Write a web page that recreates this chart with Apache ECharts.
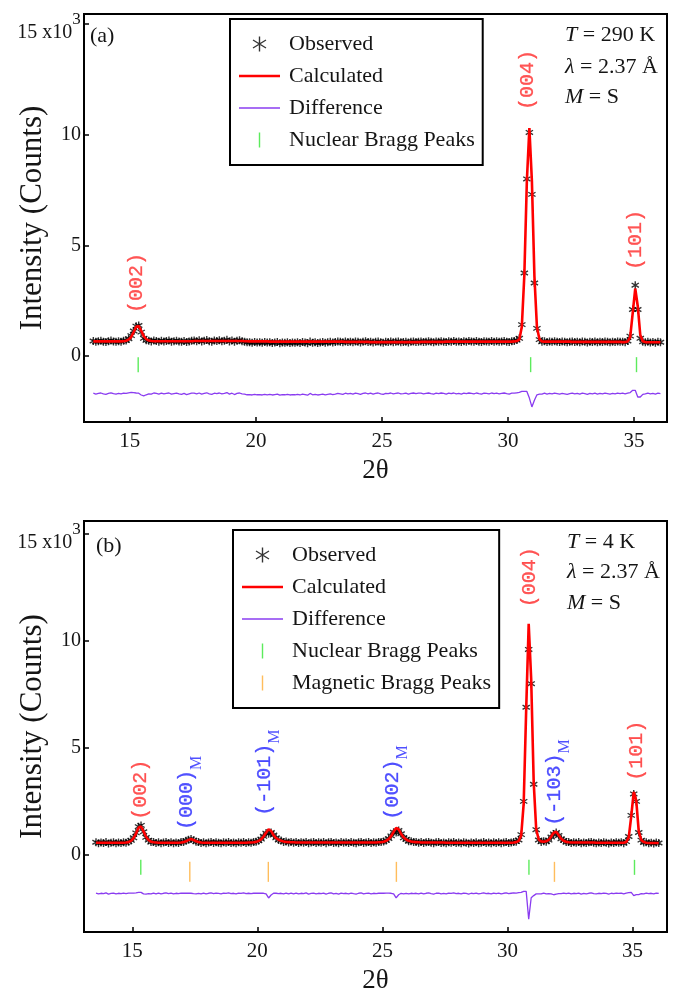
<!DOCTYPE html>
<html>
<head>
<meta charset="utf-8">
<script src="https://cdn.jsdelivr.net/npm/echarts@6/dist/echarts.min.js"></script>
<style>
  html, body { margin: 0; padding: 0; background: #fff; }
  #chart { width: 691px; height: 998px; }
</style>
</head>
<body>
<div id="chart"></div>
<script>
// Scan grid (2θ, degrees)
const twoTheta = [
  13.55,13.65,13.75,13.85,13.95,14.05,14.15,14.25,14.35,14.45,
  14.55,14.65,14.75,14.85,14.95,15.05,15.15,15.25,15.35,15.45,
  15.55,15.65,15.75,15.85,15.95,16.05,16.15,16.25,16.35,16.45,
  16.55,16.65,16.75,16.85,16.95,17.05,17.15,17.25,17.35,17.45,
  17.55,17.65,17.75,17.85,17.95,18.05,18.15,18.25,18.35,18.45,
  18.55,18.65,18.75,18.85,18.95,19.05,19.15,19.25,19.35,19.45,
  19.55,19.65,19.75,19.85,19.95,20.05,20.15,20.25,20.35,20.45,
  20.55,20.65,20.75,20.85,20.95,21.05,21.15,21.25,21.35,21.45,
  21.55,21.65,21.75,21.85,21.95,22.05,22.15,22.25,22.35,22.45,
  22.55,22.65,22.75,22.85,22.95,23.05,23.15,23.25,23.35,23.45,
  23.55,23.65,23.75,23.85,23.95,24.05,24.15,24.25,24.35,24.45,
  24.55,24.65,24.75,24.85,24.95,25.05,25.15,25.25,25.35,25.45,
  25.55,25.65,25.75,25.85,25.95,26.05,26.15,26.25,26.35,26.45,
  26.55,26.65,26.75,26.85,26.95,27.05,27.15,27.25,27.35,27.45,
  27.55,27.65,27.75,27.85,27.95,28.05,28.15,28.25,28.35,28.45,
  28.55,28.65,28.75,28.85,28.95,29.05,29.15,29.25,29.35,29.45,
  29.55,29.65,29.75,29.85,29.95,30.05,30.15,30.25,30.35,30.45,
  30.55,30.65,30.75,30.85,30.95,31.05,31.15,31.25,31.35,31.45,
  31.55,31.65,31.75,31.85,31.95,32.05,32.15,32.25,32.35,32.45,
  32.55,32.65,32.75,32.85,32.95,33.05,33.15,33.25,33.35,33.45,
  33.55,33.65,33.75,33.85,33.95,34.05,34.15,34.25,34.35,34.45,
  34.55,34.65,34.75,34.85,34.95,35.05,35.15,35.25,35.35,35.45,
  35.55,35.65,35.75,35.85,35.95,36.05
];

// (a) T = 290 K, intensities in 10^3 counts
const obsA = [
  0.68,0.64,0.67,0.69,0.65,0.63,0.67,0.70,0.66,0.64,
  0.67,0.65,0.69,0.70,0.78,0.92,1.13,1.35,1.38,1.08,
  0.80,0.71,0.69,0.66,0.70,0.68,0.65,0.69,0.66,0.68,
  0.70,0.65,0.67,0.69,0.66,0.64,0.68,0.63,0.66,0.69,
  0.70,0.67,0.71,0.66,0.69,0.72,0.67,0.65,0.70,0.68,
  0.71,0.67,0.69,0.73,0.66,0.70,0.64,0.69,0.71,0.67,
  0.65,0.62,0.62,0.60,0.63,0.61,0.62,0.60,0.63,0.61,
  0.62,0.59,0.61,0.63,0.58,0.61,0.60,0.62,0.59,0.61,
  0.60,0.62,0.59,0.63,0.61,0.58,0.66,0.60,0.62,0.59,
  0.61,0.63,0.60,0.62,0.64,0.61,0.63,0.66,0.64,0.62,
  0.66,0.63,0.65,0.62,0.66,0.64,0.61,0.65,0.67,0.63,
  0.65,0.61,0.64,0.66,0.62,0.60,0.64,0.63,0.66,0.62,
  0.64,0.66,0.62,0.63,0.65,0.61,0.64,0.66,0.63,0.65,
  0.66,0.63,0.65,0.67,0.64,0.62,0.66,0.64,0.67,0.65,
  0.63,0.67,0.65,0.68,0.64,0.66,0.63,0.67,0.65,0.68,
  0.66,0.64,0.68,0.65,0.63,0.67,0.66,0.64,0.68,0.65,
  0.67,0.64,0.66,0.68,0.65,0.63,0.67,0.68,0.72,0.80,
  1.42,3.75,8.00,10.10,7.30,3.30,1.25,0.74,0.64,0.67,
  0.63,0.66,0.64,0.67,0.65,0.63,0.66,0.64,0.62,0.65,
  0.66,0.63,0.65,0.62,0.66,0.64,0.61,0.65,0.63,0.66,
  0.62,0.65,0.63,0.66,0.64,0.62,0.65,0.63,0.66,0.64,
  0.65,0.62,0.68,0.90,2.10,3.20,2.10,0.80,0.64,0.62,
  0.64,0.61,0.63,0.60,0.64,0.62
];
const calcA = [
  0.66,0.66,0.66,0.66,0.66,0.66,0.66,0.66,0.66,0.66,
  0.66,0.66,0.67,0.69,0.74,0.86,1.08,1.32,1.36,1.14,
  0.90,0.76,0.70,0.68,0.67,0.67,0.67,0.67,0.67,0.67,
  0.67,0.67,0.67,0.67,0.67,0.67,0.67,0.67,0.67,0.67,
  0.68,0.68,0.68,0.68,0.68,0.68,0.68,0.68,0.68,0.68,
  0.68,0.68,0.68,0.68,0.68,0.68,0.68,0.68,0.68,0.68,
  0.67,0.67,0.66,0.66,0.66,0.66,0.66,0.66,0.66,0.66,
  0.65,0.65,0.65,0.65,0.65,0.65,0.65,0.65,0.65,0.65,
  0.65,0.65,0.65,0.65,0.65,0.65,0.65,0.65,0.65,0.65,
  0.65,0.65,0.65,0.65,0.65,0.65,0.65,0.65,0.65,0.65,
  0.64,0.64,0.64,0.64,0.64,0.64,0.64,0.64,0.64,0.64,
  0.63,0.63,0.63,0.63,0.63,0.63,0.63,0.63,0.63,0.63,
  0.63,0.63,0.63,0.63,0.63,0.63,0.63,0.63,0.63,0.63,
  0.64,0.64,0.64,0.64,0.64,0.64,0.64,0.64,0.64,0.64,
  0.65,0.65,0.65,0.65,0.65,0.65,0.65,0.65,0.65,0.65,
  0.65,0.65,0.65,0.65,0.65,0.65,0.65,0.65,0.65,0.65,
  0.65,0.65,0.65,0.65,0.65,0.65,0.65,0.66,0.68,0.74,
  1.32,3.65,7.90,10.30,7.90,3.60,1.30,0.76,0.66,0.65,
  0.65,0.65,0.65,0.65,0.65,0.65,0.65,0.65,0.65,0.65,
  0.64,0.64,0.64,0.64,0.64,0.64,0.64,0.64,0.64,0.64,
  0.64,0.64,0.64,0.64,0.64,0.64,0.64,0.64,0.64,0.64,
  0.63,0.63,0.66,0.85,1.95,3.05,2.25,0.95,0.67,0.63,
  0.62,0.62,0.62,0.62,0.62,0.62
];

// (b) T = 4 K
const obsB = [
  0.59,0.55,0.58,0.56,0.60,0.54,0.57,0.59,0.55,0.58,
  0.56,0.59,0.57,0.62,0.68,0.80,1.03,1.32,1.38,1.08,
  0.82,0.69,0.60,0.61,0.56,0.59,0.55,0.58,0.60,0.56,
  0.59,0.55,0.58,0.56,0.60,0.61,0.66,0.71,0.75,0.69,
  0.62,0.61,0.56,0.59,0.55,0.58,0.60,0.56,0.59,0.57,
  0.55,0.59,0.57,0.60,0.56,0.58,0.55,0.59,0.57,0.60,
  0.56,0.59,0.57,0.60,0.62,0.66,0.74,0.87,1.02,0.99,
  1.05,0.93,0.80,0.70,0.67,0.61,0.63,0.58,0.61,0.57,
  0.60,0.56,0.59,0.57,0.61,0.55,0.58,0.60,0.56,0.59,
  0.57,0.60,0.55,0.59,0.61,0.56,0.58,0.55,0.60,0.57,
  0.59,0.56,0.60,0.57,0.55,0.59,0.61,0.56,0.58,0.60,
  0.56,0.59,0.57,0.60,0.61,0.63,0.68,0.76,0.89,1.06,
  1.05,1.14,0.99,0.80,0.73,0.64,0.64,0.60,0.61,0.57,
  0.60,0.56,0.59,0.61,0.57,0.55,0.59,0.60,0.56,0.58,
  0.55,0.59,0.57,0.60,0.56,0.58,0.55,0.59,0.57,0.54,
  0.58,0.56,0.59,0.55,0.57,0.60,0.56,0.58,0.55,0.59,
  0.56,0.59,0.55,0.58,0.60,0.56,0.58,0.61,0.62,0.70,
  0.95,2.50,6.90,9.60,8.00,3.30,1.18,0.70,0.61,0.64,
  0.62,0.69,0.84,0.98,1.05,0.91,0.75,0.68,0.60,0.61,
  0.56,0.59,0.57,0.60,0.55,0.58,0.56,0.59,0.61,0.57,
  0.55,0.58,0.56,0.59,0.57,0.54,0.58,0.56,0.59,0.57,
  0.59,0.55,0.62,0.86,1.85,2.85,2.50,1.05,0.69,0.58,
  0.59,0.55,0.57,0.54,0.58,0.56
];
const calcB = [
  0.57,0.57,0.57,0.57,0.57,0.57,0.57,0.57,0.57,0.57,
  0.57,0.57,0.58,0.60,0.66,0.78,1.00,1.27,1.33,1.10,
  0.85,0.70,0.62,0.59,0.58,0.57,0.57,0.57,0.57,0.57,
  0.57,0.57,0.57,0.57,0.58,0.60,0.64,0.70,0.74,0.70,
  0.64,0.60,0.58,0.57,0.57,0.57,0.57,0.57,0.57,0.57,
  0.57,0.57,0.57,0.57,0.57,0.57,0.57,0.57,0.57,0.57,
  0.57,0.58,0.58,0.59,0.61,0.65,0.73,0.86,1.04,1.20,
  1.12,0.92,0.79,0.71,0.66,0.63,0.61,0.60,0.59,0.59,
  0.58,0.58,0.58,0.58,0.58,0.58,0.58,0.58,0.58,0.58,
  0.58,0.58,0.58,0.58,0.58,0.58,0.58,0.58,0.58,0.58,
  0.58,0.58,0.58,0.58,0.58,0.58,0.58,0.58,0.58,0.58,
  0.58,0.58,0.58,0.59,0.60,0.62,0.66,0.74,0.88,1.08,
  1.26,1.20,0.98,0.82,0.72,0.66,0.63,0.61,0.60,0.59,
  0.58,0.58,0.58,0.58,0.58,0.58,0.58,0.58,0.58,0.58,
  0.57,0.57,0.57,0.57,0.57,0.57,0.57,0.57,0.57,0.57,
  0.57,0.57,0.57,0.57,0.57,0.57,0.57,0.57,0.57,0.57,
  0.57,0.57,0.57,0.57,0.57,0.57,0.57,0.58,0.60,0.66,
  0.90,2.40,6.80,10.80,8.20,3.40,1.20,0.72,0.63,0.62,
  0.64,0.70,0.86,1.04,1.08,0.92,0.76,0.66,0.61,0.59,
  0.58,0.58,0.58,0.58,0.58,0.58,0.58,0.58,0.58,0.58,
  0.57,0.57,0.57,0.57,0.57,0.57,0.57,0.57,0.57,0.57,
  0.57,0.57,0.60,0.82,1.80,2.95,2.55,1.10,0.70,0.60,
  0.57,0.56,0.56,0.56,0.56,0.56
];

// Bragg reflection positions (2θ)
const nuclearA = [15.33, 30.90, 35.10];
const nuclearB = [15.34, 30.86, 35.08];
const magneticB = [17.30, 20.44, 25.56, 31.88];

// Peak index labels: [2θ, height, hkl, kind]
const peakLabelsA = [
  [15.27, 3.30, '(002)', 'n'],
  [30.80, 12.47, '(004)', 'n'],
  [35.05, 5.24, '(101)', 'n']
];
const peakLabelsB = [
  [15.32, 3.04, '(002)', 'n'],
  [17.33, 2.90, '(000)', 'm'],
  [20.44, 3.85, '(-101)', 'm'],
  [25.56, 3.39, '(002)', 'm'],
  [30.90, 12.97, '(004)', 'n'],
  [32.04, 3.39, '(-103)', 'm'],
  [35.18, 4.87, '(101)', 'n']
];

const yTickValues = [0, 5, 10, 15];
const xTickValues = [15, 20, 25, 30, 35];

// Vertical placement of the difference curve and the reflection markers
const DIFF_OFFSET_A = -1.7, DIFF_OFFSET_B = -1.8;
const TICK_ROW_A = -0.39, TICK_ROW_B = -0.58, MAG_ROW_B = -0.79;

const SERIF = "'Liberation Serif','Times New Roman',serif";
const MONO = "'Liberation Mono','Courier New',monospace";
const INK = '#151515';
const RED = '#ff0000', PURPLE = '#8a3cf0', GREEN = '#33e633', ORANGE = '#ffad33';
const LABEL_RED = '#ff2a2a', LABEL_BLUE = '#2626ff';

// Six-armed asterisk built from thin filled bars
function asteriskPath(t) {
  const h = t / 2;
  const bar = (x1, y1, x2, y2) => {
    const dx = x2 - x1, dy = y2 - y1, L = Math.hypot(dx, dy);
    const nx = -dy / L * h, ny = dx / L * h;
    const p = [[x1 - nx, y1 - ny], [x2 - nx, y2 - ny], [x2 + nx, y2 + ny], [x1 + nx, y1 + ny]];
    return 'M' + p.map(q => q[0].toFixed(3) + ',' + q[1].toFixed(3)).join('L') + 'Z';
  };
  return 'path://' + bar(6, 0, 6, 12) + bar(0.8, 2.8, 11.2, 9.2) + bar(0.8, 9.2, 11.2, 2.8);
}

const pairs = ys => twoTheta.map((x, i) => [x, ys[i]]);
const difference = (obs, calc, off) => twoTheta.map((x, i) => [x, +(obs[i] - calc[i] + off).toFixed(3)]);

function xAxisFor(gi, min, max) {
  return {
    type: 'value', gridIndex: gi, min: min, max: max,
    name: '2θ', nameLocation: 'middle', nameGap: 35, nameMoveOverlap: false,
    nameTextStyle: { fontFamily: SERIF, fontSize: 27, color: INK },
    axisLine: { onZero: false, lineStyle: { color: '#000', width: 2 } },
    axisTick: { inside: true, length: 5, customValues: xTickValues, lineStyle: { color: '#000', width: 1.5 } },
    axisLabel: { customValues: xTickValues, margin: 9, fontFamily: SERIF, fontSize: 21, color: INK },
    splitLine: { show: false }
  };
}
function yAxisFor(gi, min, max) {
  return {
    type: 'value', gridIndex: gi, min: min, max: max,
    name: 'Intensity (Counts)', nameLocation: 'middle', nameGap: 36, nameMoveOverlap: false,
    nameTextStyle: { fontFamily: SERIF, fontSize: 31, color: INK },
    axisLine: { lineStyle: { color: '#000', width: 2 } },
    axisTick: { inside: true, length: 5, customValues: yTickValues, lineStyle: { color: '#000', width: 1.5 } },
    axisLabel: {
      customValues: yTickValues, margin: 3,
      // top tick carries the ×10^3 scale factor
      formatter: v => v === 15 ? '{n|15 x10}{s|3}{sp| }' : '{p|' + v + '}',
      rich: {
        p: { fontFamily: SERIF, fontSize: 20, lineHeight: 20, color: INK },
        n: { fontFamily: SERIF, fontSize: 20, lineHeight: 20, color: INK, verticalAlign: 'top', padding: [17, 0, 0, 0] },
        s: { fontFamily: SERIF, fontSize: 17, lineHeight: 17, color: INK, verticalAlign: 'top', padding: [5, 0, 0, 0] },
        sp: { fontFamily: SERIF, fontSize: 1, lineHeight: 36 }
      }
    },
    splitLine: { show: false }
  };
}

function labelSeries(list, idx) {
  const glyph = { fontFamily: MONO, fontSize: 20, lineHeight: 20, textBorderWidth: 0.3 };
  return {
    type: 'scatter', xAxisIndex: idx, yAxisIndex: idx, silent: true, z: 6,
    symbol: 'circle', symbolSize: 1, itemStyle: { color: 'rgba(0,0,0,0)' },
    data: list.map(d => ({ value: [d[0], d[1]], name: d[2], kind: d[3] })),
    label: {
      show: true, position: 'inside', rotate: 90,
      formatter: p => p.data.kind === 'm' ? '{m|' + p.data.name + '}{sub|M}{sp| }' : '{r|' + p.data.name + '}',
      rich: {
        r: Object.assign({ color: LABEL_RED, textBorderColor: LABEL_RED }, glyph),
        m: Object.assign({ color: LABEL_BLUE, textBorderColor: LABEL_BLUE, verticalAlign: 'top' }, glyph),
        sub: { fontFamily: SERIF, fontSize: 16, lineHeight: 16, color: LABEL_BLUE, verticalAlign: 'bottom' },
        sp: { fontSize: 1, lineHeight: 28 }
      }
    }
  };
}

function panelSeries(idx, obs, calc, off, nuclear, nucRow, magnetic, magRow) {
  const s = [
    { name: 'Observed', type: 'scatter', xAxisIndex: idx, yAxisIndex: idx, z: 2,
      symbol: asteriskPath(2.0), symbolSize: 8, itemStyle: { color: '#000' }, data: pairs(obs) },
    { name: 'Calculated', type: 'line', xAxisIndex: idx, yAxisIndex: idx, z: 3,
      showSymbol: false, color: RED, lineStyle: { color: RED, width: 2.6 }, data: pairs(calc) },
    { name: 'Difference', type: 'line', xAxisIndex: idx, yAxisIndex: idx, z: 3,
      showSymbol: false, color: PURPLE, lineStyle: { color: PURPLE, width: 1.3 }, data: difference(obs, calc, off) },
    { name: 'Nuclear Bragg Peaks', type: 'scatter', xAxisIndex: idx, yAxisIndex: idx, z: 3,
      symbol: 'rect', symbolSize: [1.4, 15], itemStyle: { color: GREEN }, data: nuclear.map(x => [x, nucRow]) }
  ];
  if (magnetic) {
    s.push({ name: 'Magnetic Bragg Peaks', type: 'scatter', xAxisIndex: idx, yAxisIndex: idx, z: 3,
      symbol: 'rect', symbolSize: [1.4, 20], itemStyle: { color: ORANGE }, data: magnetic.map(x => [x, magRow]) });
  }
  return s;
}

const legendIcons = {
  'Observed': asteriskPath(1.1),
  'Calculated': 'path://M0,0H41V2.6H0Z',
  'Difference': 'path://M0,0H41V1.4H0Z',
  'Nuclear Bragg Peaks': 'path://M0,0H1.6V17H0Z',
  'Magnetic Bragg Peaks': 'path://M0,0H1.6V17H0Z'
};
function legendFor(names, left, top) {
  return {
    orient: 'vertical', left: left, top: top, selectedMode: false,
    padding: [14, 8, 14, 9], itemGap: 10, itemWidth: 41, itemHeight: 15,
    borderColor: '#000', borderWidth: 2, backgroundColor: '#fff',
    textStyle: { fontFamily: SERIF, fontSize: 22, lineHeight: 22, color: INK, padding: [0, 0, 0, 4] },
    data: names.map(n => ({ name: n, icon: legendIcons[n] }))
  };
}

function noteText(x, y, text) {
  return {
    type: 'text', x: x, y: y, silent: true,
    style: {
      text: text, fontFamily: SERIF, fontSize: 22, fill: INK, verticalAlign: 'middle',
      rich: { i: { fontFamily: SERIF, fontSize: 22, fontStyle: 'italic', fill: INK } }
    }
  };
}

const chart = echarts.init(document.getElementById('chart'), null, { renderer: 'canvas' });
chart.setOption({
  animation: false,
  backgroundColor: '#fff',
  grid: [
    { left: 84, top: 14, width: 583, height: 408, show: true, borderColor: '#000', borderWidth: 2,
      containLabel: false, outerBoundsMode: 'none' },
    { left: 84, top: 521, width: 583, height: 411, show: true, borderColor: '#000', borderWidth: 2,
      containLabel: false, outerBoundsMode: 'none' }
  ],
  xAxis: [xAxisFor(0, 13.18, 36.31), xAxisFor(1, 13.07, 36.38)],
  yAxis: [yAxisFor(0, -2.98, 15.45), yAxisFor(1, -3.6, 15.6)],
  legend: [
    legendFor(['Observed', 'Calculated', 'Difference', 'Nuclear Bragg Peaks'], 230, 19),
    legendFor(['Observed', 'Calculated', 'Difference', 'Nuclear Bragg Peaks', 'Magnetic Bragg Peaks'], 233, 530)
  ],
  series: [].concat(
    panelSeries(0, obsA, calcA, DIFF_OFFSET_A, nuclearA, TICK_ROW_A),
    [labelSeries(peakLabelsA, 0)],
    panelSeries(1, obsB, calcB, DIFF_OFFSET_B, nuclearB, TICK_ROW_B, magneticB, MAG_ROW_B),
    [labelSeries(peakLabelsB, 1)]
  ),
  graphic: [
    noteText(90, 36, '(a)'),
    noteText(96, 546, '(b)'),
    noteText(565, 35, '{i|T} = 290 K'),
    noteText(565, 67, '{i|λ} = 2.37 Å'),
    noteText(565, 97, '{i|M} = S'),
    noteText(567, 542, '{i|T} = 4 K'),
    noteText(567, 572, '{i|λ} = 2.37 Å'),
    noteText(567, 603, '{i|M} = S')
  ]
});
</script>
</body>
</html>
